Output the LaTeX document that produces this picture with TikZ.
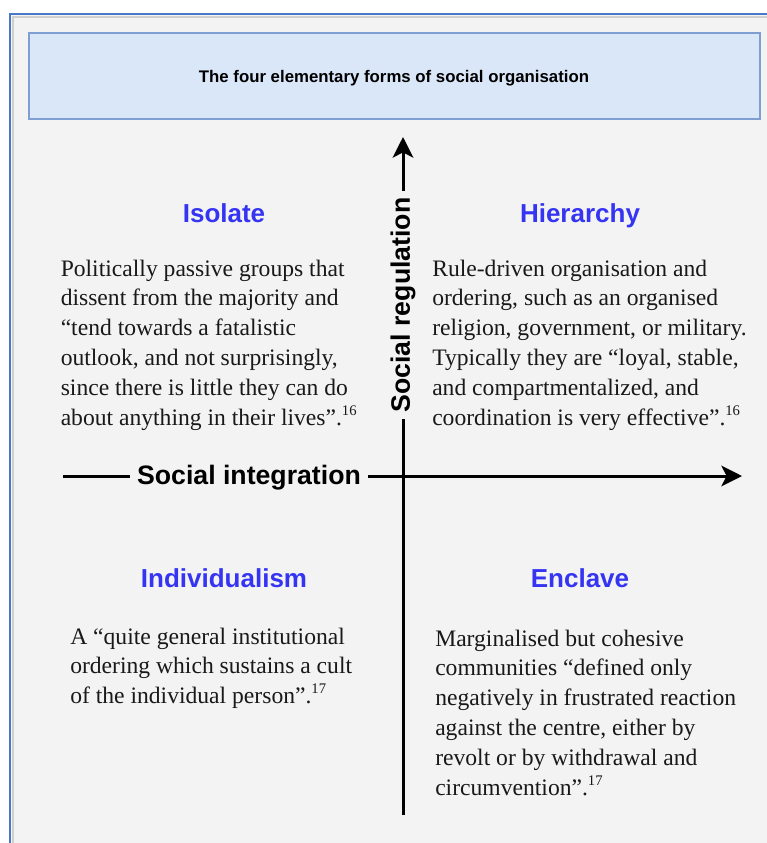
\documentclass[tikz,border=0pt]{standalone}
\usepackage{fontspec}
\setmainfont{Liberation Serif}
\newfontfamily\hfont{Liberation Sans}
\usetikzlibrary{arrows.meta}
\definecolor{bgc}{HTML}{F3F3F3}
\definecolor{frameblue}{HTML}{4A78C8}
\definecolor{framegray}{HTML}{CFCFCF}
\definecolor{titlefill}{HTML}{DAE7F9}
\definecolor{titledraw}{HTML}{7F9ED2}
\definecolor{headblue}{HTML}{3434F2}
\newcommand{\fnref}[1]{\raisebox{0.42em}{\fontsize{11}{11}\selectfont #1}}
\tikzset{
  heading/.style={font=\hfont\bfseries\fontsize{19.5}{22}\selectfont, text=headblue, inner sep=0pt, anchor=base},
  body/.style={font=\fontsize{17.7}{22.35}\selectfont, text=black!90, align=left, inner sep=0pt, anchor=north west},
  axislabel/.style={font=\hfont\bfseries\fontsize{20}{22}\selectfont, inner ysep=0pt, inner xsep=5pt},
  axisline/.style={line width=2.25pt, line cap=butt},
  axistip/.style={-{Stealth[length=15.5pt,width=15.5pt,inset=4pt]}},
}
\begin{document}
\begin{tikzpicture}[x=0.75pt,y=-0.75pt]
\useasboundingbox (0,0) rectangle (767,843);
\fill[white] (0,0) rectangle (767,843);
\fill[bgc] (10,14) rectangle (767,843);
\draw[framegray, line width=0.9pt] (13,843) -- (13,17) -- (767,17);
\draw[frameblue, line width=1.6pt] (10,843) -- (10,14) -- (767,14);
% title
\node[draw=titledraw, fill=titlefill, line width=1.2pt, minimum width=731*0.75pt, minimum height=86*0.75pt, inner sep=0pt,
  font=\hfont\bfseries\fontsize{12.6}{14}\selectfont] (title) at (394.5,76) {};
\node[font=\hfont\bfseries\fontsize{12.6}{14}\selectfont, anchor=base, inner sep=0pt] (titletext) at (394,82) {The four elementary forms of social organisation};
% axes
\node[axislabel] (hlab) at (249,478) {Social integration};
\node[axislabel, rotate=90] (vlab) at (403,305) {Social regulation};
\coordinate (xl) at (63,476);
\coordinate (xr) at (742,476);
\coordinate (yb) at (403,815);
\coordinate (yt) at (403,137);
\draw[axisline] (xl) -- (xl -| hlab.west);
\draw[axisline, axistip] (xr -| hlab.east) -- (xr);
\draw[axisline] (yb) -- (vlab.west);
\draw[axisline, axistip] (vlab.east) -- (yt);
% headings
\node[heading] (hiso) at (224,222) {Isolate};
\node[heading] (hhie) at (580,222) {Hierarchy};
\node[heading] (hind) at (224,587) {Individualism};
\node[heading] (henc) at (580,587) {Enclave};
% bodies
\node[body] (tiso) at (60.5,255) {\strut Politically passive groups that\\
dissent from the majority and\\
“tend towards a fatalistic\\
outlook, and not surprisingly,\\
since there is little they can do\\
about anything in their lives”.\fnref{16}};
\node[body] (thie) at (432,255) {\strut Rule-driven organisation and\\
ordering, such as an organised\\
religion, government, or military.\\
Typically they are “loyal, stable,\\
and compartmentalized, and\\
coordination is very effective”.\fnref{16}};
\node[body] (tind) at (70,623) {\strut A “quite general institutional\\
ordering which sustains a cult\\
of the individual person”.\fnref{17}};
\node[body] (tenc) at (435,625) {\strut Marginalised but cohesive\\
communities “defined only\\
negatively in frustrated reaction\\
against the centre, either by\\
revolt or by withdrawal and\\
circumvention”.\fnref{17}};
\end{tikzpicture}
\end{document}
